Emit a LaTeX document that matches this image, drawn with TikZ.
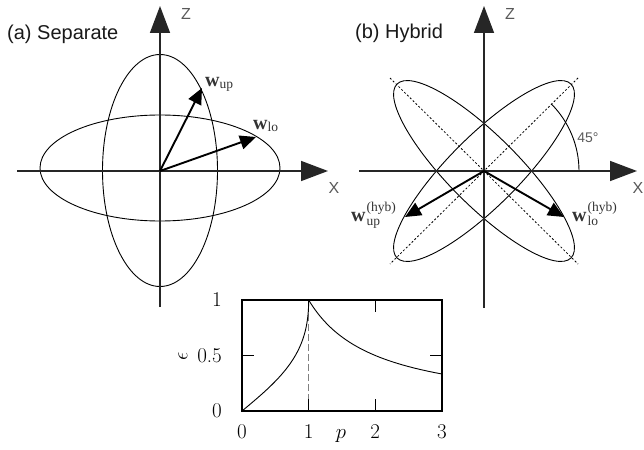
\documentclass[tikz,border=0pt]{standalone}
\usepackage{fontspec}
\setsansfont{Liberation Sans}
\newfontfamily\timesf{Liberation Serif}
\usetikzlibrary{arrows.meta}
\newcommand{\wsym}{{\timesf\bfseries\fontsize{20}{20}\selectfont w}}
\newcommand{\smallsub}[1]{{\timesf\fontsize{13.5}{13.5}\selectfont #1}}
\begin{document}
\begin{tikzpicture}[x=1pt,y=-1pt,
  axis/.style={line width=1.5pt, draw=black!85, -{Triangle[length=27pt,width=20pt]}},
  ell/.style={line width=0.9pt},
  vec/.style={line width=1.9pt, -{Triangle[length=16pt,width=14pt]}},
  diag/.style={line width=0.8pt, dash pattern=on 2pt off 2pt},
  axlab/.style={font=\sffamily\fontsize{16}{16}\selectfont, text=black!65, inner sep=0},
  ttl/.style={font=\sffamily\fontsize{20}{20}\selectfont, text=black!90, inner sep=0, anchor=west},
  wlab/.style={inner sep=0, anchor=base west, text=black!80},
  ticklab/.style={font=\fontsize{21}{21}\selectfont, inner sep=0},
]
\useasboundingbox (0,0) rectangle (644,449);

% ---------- (a) Separate ----------
\coordinate (O1) at (160,171);
\coordinate (xa0) at (17,171);
\coordinate (xa1) at (328,171);
\coordinate (za0) at (160,307);
\coordinate (za1) at (160,6);
\coordinate (wupT) at (202,88);
\coordinate (wloT) at (256,137);
\draw[ell] (160,170.5) ellipse [x radius=57.5, y radius=116];
\draw[ell] (160,168) ellipse [x radius=120, y radius=53];
\draw[axis] (xa0) -- (xa1);
\draw[axis] (za0) -- (za1);
\draw[vec] (O1) -- (wupT);
\draw[vec] (O1) -- (wloT);
\node[ttl] (ta) at (7,34) {(a) Separate};
\node[axlab] (zA) at (186,14) {Z};
\node[axlab] (xA) at (334,188) {X};
\node[wlab] (lwup) at (205,87) {\wsym\raisebox{-2pt}{\smallsub{up}}};
\node[wlab] (lwlo) at (253,130) {\wsym\raisebox{-2pt}{\smallsub{lo}}};

% ---------- (b) Hybrid ----------
\coordinate (O2) at (484,171);
\coordinate (xb0) at (359,171);
\coordinate (xb1) at (637,171);
\coordinate (zb0) at (484,308);
\coordinate (zb1) at (484,6);
\coordinate (d1a) at (390,78);
\coordinate (d1b) at (578,264);
\coordinate (d2a) at (578,78);
\coordinate (d2b) at (390,264);
\coordinate (arcS) at (579,171);
\coordinate (hupT) at (405,217);
\coordinate (hloT) at (564,217);
\draw[ell, rotate around={45:(O2)}] (O2) ellipse [x radius=123, y radius=35];
\draw[ell, rotate around={-45:(O2)}] (O2) ellipse [x radius=123, y radius=35];
\draw[diag] (d1a) -- (d1b);
\draw[diag] (d2a) -- (d2b);
\draw[ell] (arcS) arc[start angle=0, end angle=-45, radius=95];
\draw[axis] (xb0) -- (xb1);
\draw[axis] (zb0) -- (zb1);
\draw[vec] (O2) -- (hupT);
\draw[vec] (O2) -- (hloT);
\node[ttl] (tb) at (355,33) {(b) Hybrid};
\node[axlab] (zB) at (510,14) {Z};
\node[axlab] (xB) at (638,188) {X};
\node[axlab, font=\sffamily\fontsize{14}{14}\selectfont] (ang) at (588,138) {45°};
\node[wlab] (lhup) at (351,221) {\wsym\hspace{1pt}\makebox[0pt][l]{\raisebox{10pt}{\smallsub{(hyb)}}}\raisebox{-4pt}{\smallsub{up}}};
\node[wlab] (lhlo) at (572,221) {\wsym\hspace{1pt}\makebox[0pt][l]{\raisebox{10pt}{\smallsub{(hyb)}}}\raisebox{-4pt}{\smallsub{lo}}};

% ---------- plot ----------
\begin{scope}[shift={(242,411)}, x=66.667pt, y=111pt]
  \draw[black!50, line width=1.6pt, dash pattern=on 7pt off 3pt] (1,0) -- (1,1);
  \draw[line width=0.9pt] plot[domain=0:90, samples=90, smooth, variable=\t] ({sin(\t)},{tan(\t/2)});
  \draw[line width=0.9pt] plot[domain=1:3, samples=60, smooth] (\x,{1/\x});
  \foreach \p in {1,2} {
    \draw[line width=1.1pt] (\p,0) -- ++(0,12pt);
    \draw[line width=1.1pt] (\p,1) -- ++(0,-12pt);
  }
  \draw[line width=1.1pt] (0,0.5) -- ++(12pt,0);
  \draw[line width=1.1pt] (3,0.5) -- ++(-12pt,0);
  \draw[line width=1.4pt] (0,0) rectangle (3,1);
\end{scope}
\node[ticklab] (px0) at (242,432) {0};
\node[ticklab] (px1) at (308.7,432) {1};
\node[ticklab] (px2) at (375.3,432) {2};
\node[ticklab] (px3) at (442,432) {3};
\node[ticklab, anchor=east] (py0) at (222,411) {0};
\node[ticklab, anchor=east] (py5) at (222,355.5) {0.5};
\node[ticklab, anchor=east] (py1) at (222,300) {1};
\node[ticklab, rotate=90] (eps) at (183,356) {$\epsilon$};
\node[ticklab] (plab) at (341,436) {$p$};
\end{tikzpicture}
\end{document}
